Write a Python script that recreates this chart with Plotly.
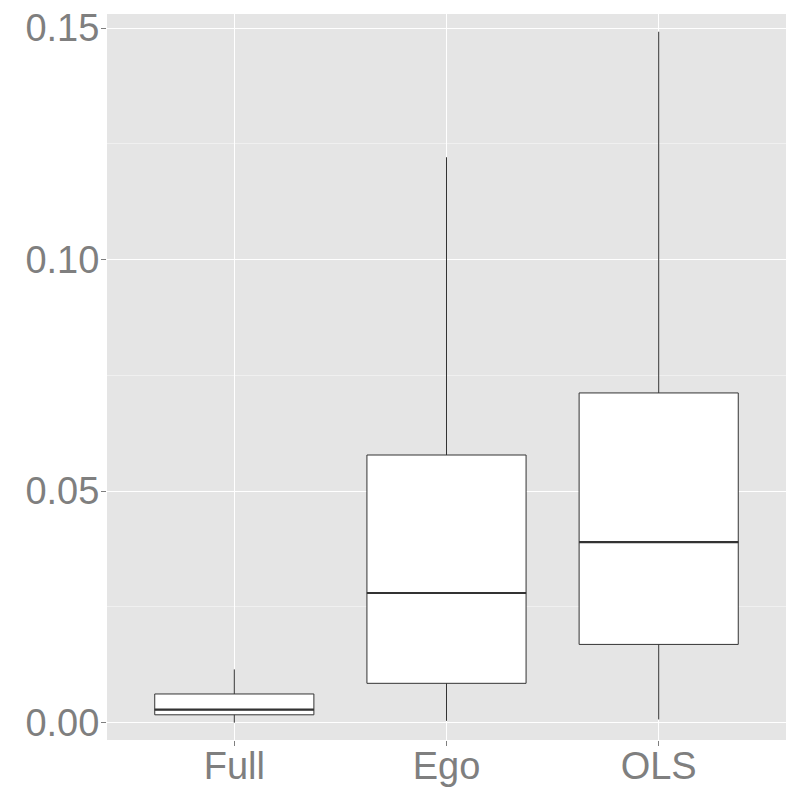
import plotly.graph_objects as go

#############################################
# Data
#############################################

methods = ['Full', 'Ego', 'OLS']
lower_whisker = [0.0, 0.0004, 0.0007]
q1 = [0.0017, 0.0085, 0.0169]
median = [0.0028, 0.0280, 0.0390]
q3 = [0.0062, 0.0578, 0.0712]
upper_whisker = [0.0115, 0.1221, 0.1492]

y_ticks = [0.0, 0.05, 0.10, 0.15]
y_tick_text = ['0.00', '0.05', '0.10', '0.15']

box_width = 0.75

#############################################
# Plot
#############################################

fig = go.Figure()
fig.add_trace(go.Box(
    x = methods,
    q1 = q1,
    median = median,
    q3 = q3,
    lowerfence = lower_whisker,
    upperfence = upper_whisker,
    width = box_width,
    fillcolor = 'white',
    line = dict(color = '#333333', width = 1),
    whiskerwidth = 0,
    boxpoints = False,
    showlegend = False,
    hoverinfo = 'skip'
))

# ggplot draws the median thicker than the box outline
for i, m in enumerate(median):
    fig.add_shape(type = 'line', xref = 'x', yref = 'y',
                  x0 = i - box_width / 2, x1 = i + box_width / 2, y0 = m, y1 = m,
                  line = dict(color = '#333333', width = 2.2))

axis_font = dict(family = 'Liberation Sans, Arial, sans-serif', size = 38, color = '#7F7F7F')

# the page body adds an 8px margin, so the figure is 792 wide/high
fig.update_layout(
    width = 792, height = 792,
    margin = dict(l = 99, r = 14, t = 6, b = 60),
    paper_bgcolor = 'white',
    plot_bgcolor = '#E5E5E5',
    showlegend = False,
    xaxis = dict(
        type = 'category',
        range = [-0.6, 2.6],
        automargin = False,
        showgrid = True, gridcolor = 'white', gridwidth = 1,
        zeroline = False, showline = False,
        ticks = 'outside', ticklen = 5, tickcolor = '#7F7F7F', tickwidth = 1,
        ticklabelstandoff = -13,
        ticklabeloverflow = 'allow',
        tickfont = axis_font
    ),
    yaxis = dict(
        range = [-0.00374, 0.15303],
        automargin = False,
        tickvals = y_ticks, ticktext = y_tick_text,
        showgrid = True, gridcolor = 'white', gridwidth = 1,
        minor = dict(dtick = 0.025, tick0 = 0.025, showgrid = True, gridcolor = '#F0F0F0', gridwidth = 0.6, ticks = ''),
        zeroline = False, showline = False,
        ticks = 'outside', ticklen = 5, tickcolor = '#7F7F7F', tickwidth = 1,
        ticklabelstandoff = -6,
        ticklabeloverflow = 'allow',
        tickfont = axis_font
    )
)

fig.write_html('out.html')
